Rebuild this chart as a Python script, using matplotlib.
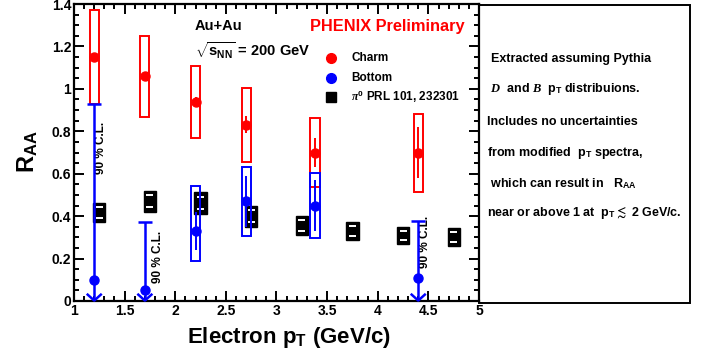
import matplotlib
matplotlib.use("Agg")
import matplotlib.pyplot as plt
from matplotlib.patches import Rectangle
from matplotlib.ticker import MultipleLocator, FuncFormatter

plt.rcParams['font.family'] = ['Liberation Sans', 'DejaVu Sans']
plt.rcParams['font.weight'] = 'bold'
plt.rcParams['mathtext.fontset'] = 'custom'
plt.rcParams['mathtext.rm'] = 'Liberation Sans:bold'
plt.rcParams['mathtext.bf'] = 'Liberation Sans:bold'
plt.rcParams['mathtext.it'] = 'Liberation Serif:italic'

# charm
charm_x = [1.2, 1.7, 2.2, 2.7, 3.38, 4.4]
charm_y = [1.15, 1.06, 0.94, 0.83, 0.70, 0.70]
charm_stat = [0.02, 0.02, 0.02, 0.04, 0.07, 0.12]
charm_lo = [0.93, 0.867, 0.768, 0.655, 0.537, 0.514]
charm_hi = [1.372, 1.249, 1.108, 1.004, 0.863, 0.881]

# bottom, measured points
bot_x = [2.2, 2.7, 3.38]
bot_y = [0.33, 0.47, 0.45]
bot_stat = [0.09, 0.12, 0.12]
bot_lo = [0.189, 0.306, 0.297]
bot_hi = [0.542, 0.632, 0.603]

# bottom, 90% C.L. upper limits
lim_x = [1.2, 1.7, 4.4]
lim_y = [0.10, 0.052, 0.108]
lim_top = [0.93, 0.372, 0.377]
lim_txt_x = [1.265, 1.83, 4.47]
lim_txt_y = [0.72, 0.21, 0.28]

# pi0 PRL 101, 232301
pi0_x = [1.25, 1.75, 2.25, 2.75, 3.25, 3.75, 4.25, 4.75]
pi0_y = [0.417, 0.47, 0.46, 0.40, 0.355, 0.33, 0.31, 0.30]
pi0_sys = [0.045, 0.05, 0.052, 0.05, 0.045, 0.044, 0.04, 0.042]

red = '#ff0000'
blue = '#0000ff'

fig = plt.figure(figsize=(7.06, 3.55), dpi=100)
ax = fig.add_axes([74/706, 1-301/355, 405/706, 297/355])
ax.set_xlim(1, 5)
ax.set_ylim(0, 1.4)

# pi0 boxes
for x, y, s in zip(pi0_x, pi0_y, pi0_sys):
    ax.add_patch(Rectangle((x-0.06, y-s), 0.12, 2*s, fc='black', ec='black', lw=1.0, zorder=3))
    ax.hlines([y-0.55*s, y+0.55*s], x-0.035, x+0.035, colors='white', lw=1.4, zorder=4)

# charm
for x, y, st, lo, hi in zip(charm_x, charm_y, charm_stat, charm_lo, charm_hi):
    ax.add_patch(Rectangle((x-0.045, lo), 0.09, hi-lo, fc='none', ec=red, lw=1.4, zorder=5))
    ax.vlines(x, y-st, y+st, colors=red, lw=1.4, zorder=5)
ax.plot(charm_x, charm_y, 'o', color=red, ms=6.5, zorder=6)

# bottom points
for x, y, st, lo, hi in zip(bot_x, bot_y, bot_stat, bot_lo, bot_hi):
    ax.add_patch(Rectangle((x-0.045, lo), 0.09, hi-lo, fc='none', ec=blue, lw=1.4, zorder=7))
    ax.vlines(x, y-st, y+st, colors=blue, lw=1.4, zorder=7)
ax.plot(bot_x, bot_y, 'o', color=blue, ms=6.5, zorder=8)

# bottom upper limits
for x, y, top, tx, ty in zip(lim_x, lim_y, lim_top, lim_txt_x, lim_txt_y):
    ax.vlines(x, 0.0, top, colors=blue, lw=1.8, zorder=7)
    ax.hlines(top, x-0.07, x+0.07, colors=blue, lw=1.8, zorder=7)
    ax.plot([x-0.065, x, x+0.065], [0.03, 0.002, 0.03], color=blue, lw=1.8,
            zorder=7, clip_on=False)
    ax.text(tx, ty, '90 % C.L.', rotation=90, ha='center', va='center',
            fontsize=8.5, fontweight='bold')
ax.plot(lim_x, lim_y, 'o', color=blue, ms=6.5, zorder=8)

# legend
leg_y = [0.818, 0.751, 0.687]
ax.plot([0.635], [leg_y[0]], 'o', color=red, ms=7, transform=ax.transAxes)
ax.plot([0.635], [leg_y[1]], 'o', color=blue, ms=7, transform=ax.transAxes)
ax.plot([0.635], [leg_y[2]], 's', color='black', ms=6.5, transform=ax.transAxes)
ax.text(0.684, leg_y[0], 'Charm', transform=ax.transAxes, va='center', fontsize=8.5)
ax.text(0.684, leg_y[1], 'Bottom', transform=ax.transAxes, va='center', fontsize=8.5)
ax.text(0.684, leg_y[2], r'$\pi^{0}$ PRL 101, 232301', transform=ax.transAxes,
        va='center', fontsize=8.5)

ax.text(0.299, 0.95, 'Au+Au', transform=ax.transAxes, va='top', fontsize=10.5)
ax.text(0.299, 0.875, r'$\sqrt{\mathrm{s}_{\mathrm{NN}}}$ = 200 GeV', transform=ax.transAxes,
        va='top', fontsize=10.5)
ax.text(0.965, 0.95, 'PHENIX Preliminary', transform=ax.transAxes, va='top', ha='right',
        fontsize=11.8, color=red)

# axes style
for sp in ax.spines.values():
    sp.set_linewidth(1.6)
ax.xaxis.set_major_locator(MultipleLocator(0.5))
ax.xaxis.set_minor_locator(MultipleLocator(0.1))
ax.yaxis.set_major_locator(MultipleLocator(0.2))
ax.yaxis.set_minor_locator(MultipleLocator(0.05))
fmt = FuncFormatter(lambda v, p: f'{v:g}')
ax.xaxis.set_major_formatter(fmt)
ax.yaxis.set_major_formatter(fmt)
ax.tick_params(which='both', direction='in', top=True, right=True, labelsize=10, width=1.4)
ax.tick_params(which='major', length=7)
ax.tick_params(which='minor', length=3.5)
ax.tick_params(axis='x', pad=2)
ax.tick_params(axis='y', pad=2)
for lab in ax.get_xticklabels() + ax.get_yticklabels():
    lab.set_fontweight('bold')

fig.text(289/706, 1-337/355, r'Electron p$_{\mathrm{T}}$ (GeV/c)', ha='center', va='center',
         fontsize=16)
fig.text(28/706, 1-152/355, r'R$_{\mathrm{AA}}$', ha='center', va='center', rotation=90,
         fontsize=17)

# note box on the right
fig.add_artist(Rectangle((479/706, 1-303/355), 211/706, 298.5/355, transform=fig.transFigure,
                         fc='white', ec='black', lw=1.4, zorder=0))
notes = ['Extracted assuming Pythia',
         r' $D$  and $B$  p$_{\mathrm{T}}$ distribuions.',
         'Includes no uncertainties',
         r'from modified  p$_{\mathrm{T}}$ spectra,',
         r' which can result in   R$_{\mathrm{AA}}$',
         r'near or above 1 at  p$_{\mathrm{T}}$$\lesssim$ 2 GeV/c.']
notes_y = [59, 89, 122, 153, 184, 213]
notes_x = [491, 487, 487, 487, 487, 487]
for t, y, x in zip(notes, notes_y, notes_x):
    fig.text(x/706, 1-y/355, t, va='center', ha='left', fontsize=9)

fig.savefig('out.png', dpi=100)
